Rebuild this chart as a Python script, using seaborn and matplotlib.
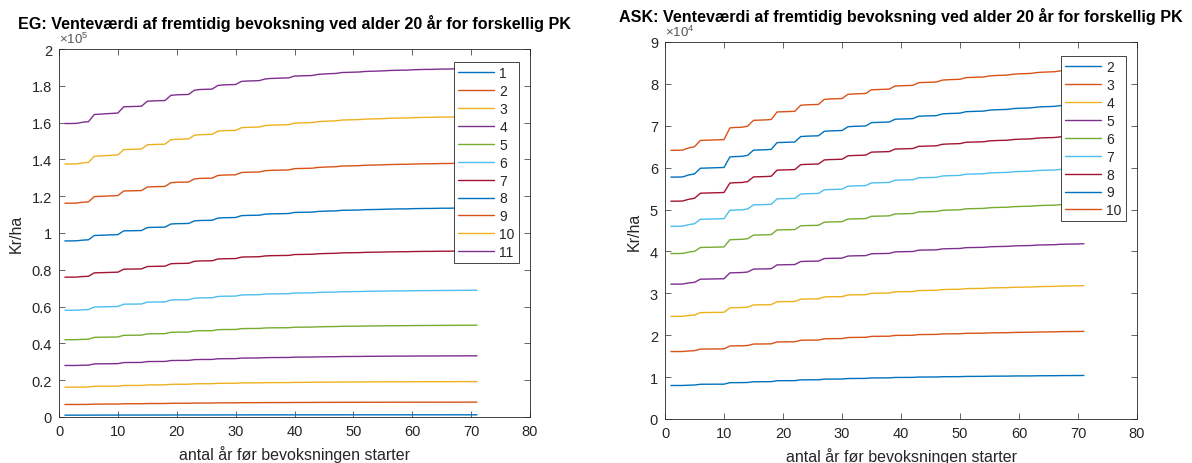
import numpy as np
import pandas as pd
import matplotlib
matplotlib.use("Agg")
import matplotlib.pyplot as plt
import seaborn as sns
from matplotlib.ticker import FuncFormatter

# Years before the stand is started
years = list(range(1, 72))

# EG (oak): value at year 1 for each PK (kr/ha)
eg_pk = [1, 2, 3, 4, 5, 6, 7, 8, 9, 10, 11]
eg_start = [1000, 6800, 16200, 28000, 42000, 58000, 76000, 95700, 116200, 137500, 159500]
# EG, PK 11 curve over the years (kr/ha); the other PK follow the same course
eg_top = [159500, 159500, 159600, 160200, 160500, 164400, 164600, 164800, 165000, 165200,
          168600, 168700, 168800, 168900, 171600, 171800, 171900, 172000, 174800, 175100,
          175200, 175300, 177600, 178000, 178100, 178200, 180200, 180500, 180600, 180700,
          182400, 182600, 182700, 182800, 183700, 184000, 184100, 184200, 184300, 185300,
          185400, 185500, 185600, 186200, 186400, 186600, 186700, 187200, 187300, 187400,
          187500, 187800, 187900, 188000, 188100, 188300, 188400, 188500, 188500, 188700,
          188800, 188900, 188900, 189000, 189100, 189100, 189200, 189300, 189300, 189400,
          189500]

# ASK (ash): value at year 1 for each PK (kr/ha)
ask_pk = [2, 3, 4, 5, 6, 7, 8, 9, 10]
ask_start = [8000, 16100, 24500, 32200, 39500, 46000, 52000, 57750, 64150]
# ASK, PK 10 curve over the years (kr/ha)
ask_top = [64150, 64150, 64200, 64700, 65000, 66500, 66550, 66600, 66650, 66700,
           69500, 69600, 69650, 69900, 71300, 71350, 71400, 71500, 73300, 73350,
           73400, 73450, 74900, 75000, 75050, 75100, 76300, 76400, 76450, 76500,
           77500, 77600, 77650, 77700, 78600, 78650, 78700, 78750, 79500, 79550,
           79600, 79650, 80300, 80350, 80400, 80450, 80900, 81000, 81050, 81100,
           81500, 81550, 81600, 81650, 81900, 82000, 82050, 82100, 82300, 82400,
           82450, 82500, 82700, 82800, 82850, 82900, 83100, 83150, 83200, 83250,
           83350]

matlab_colors = ["#0072BD", "#D95319", "#EDB120", "#7E2F8E",
                 "#77AC30", "#4DBEEE", "#A2142F"]

titles = ["EG: Venteværdi af fremtidig bevoksning ved alder 20 år for forskellig PK",
          "ASK: Venteværdi af fremtidig bevoksning ved alder 20 år for forskellig PK"]
xlabel = "antal år før bevoksningen starter"
ylabel = "Kr/ha"


def long_table(pks, starts, top):
    index = np.asarray(top, dtype=float) / top[0]
    rows = []
    for pk, s in zip(pks, starts):
        for yr, f in zip(years, index):
            rows.append({"year": yr, "value": s * f, "PK": pk})
    return pd.DataFrame(rows)


sns.set_style("ticks")
plt.rcParams["font.family"] = ["Liberation Sans", "DejaVu Sans"]
plt.rcParams["mathtext.fontset"] = "custom"
plt.rcParams["mathtext.rm"] = "Liberation Sans"
plt.rcParams["mathtext.it"] = "Liberation Sans:italic"

ink = "#262626"
fig = plt.figure(figsize=(11.92, 4.64), dpi=100)
W, H = 1192, 464
ax1 = fig.add_axes([59 / W, (H - 418) / H, 471 / W, 368 / H])
ax2 = fig.add_axes([665 / W, (H - 420) / H, 472 / W, 377 / H])


def draw(ax, pks, starts, top, title, ymax, ystep, exp, leg_h):
    df = long_table(pks, starts, top)
    palette = {pk: matlab_colors[i % 7] for i, pk in enumerate(pks)}
    sns.lineplot(data=df, x="year", y="value", hue="PK", hue_order=pks,
                 palette=palette, linewidth=1.0, ax=ax, legend=True)
    ax.set_xlim(0, 80)
    ax.set_ylim(0, ymax)
    ax.set_xticks(range(0, 81, 10))
    ax.set_yticks(np.arange(0, ymax + 1, ystep))
    scale = 10 ** exp
    ax.yaxis.set_major_formatter(FuncFormatter(lambda v, p: f"{round(v / scale, 3):g}"))
    ax.tick_params(direction="in", length=4, width=0.5, colors=ink,
                   top=True, right=True, labelsize=10.5, pad=5)
    for sp in ax.spines.values():
        sp.set_visible(True)
        sp.set_linewidth(0.6)
        sp.set_color(ink)
    ax.set_xlabel(xlabel, fontsize=11.5, color=ink, labelpad=5)
    ax.set_ylabel(ylabel, fontsize=11.5, color=ink, labelpad=6)
    ax.set_title(title, fontsize=11.6, fontweight="bold", color="black", pad=15)
    ax.text(0.0, 1.008, r"$\times\mathregular{10^{%d}}$" % exp, transform=ax.transAxes,
            ha="left", va="bottom", fontsize=9.5, color="#555555")
    handles, labels = ax.get_legend_handles_labels()
    leg = ax.legend(handles, labels, loc="upper right",
                    bbox_to_anchor=(1 - 11 / 471, 1 - leg_h), borderaxespad=0,
                    frameon=True, fancybox=False, edgecolor=ink, framealpha=1,
                    fontsize=10, handlelength=2.6, labelspacing=0.28,
                    borderpad=0.3, handletextpad=0.4)
    leg.get_frame().set_linewidth(0.6)
    for t in leg.get_texts():
        t.set_color(ink)


draw(ax1, eg_pk, eg_start, eg_top, titles[0], 200000, 20000, 5, 13 / 368)
draw(ax2, ask_pk, ask_start, ask_top, titles[1], 90000, 10000, 4, 14 / 377)

fig.savefig("out.png", dpi=100)
